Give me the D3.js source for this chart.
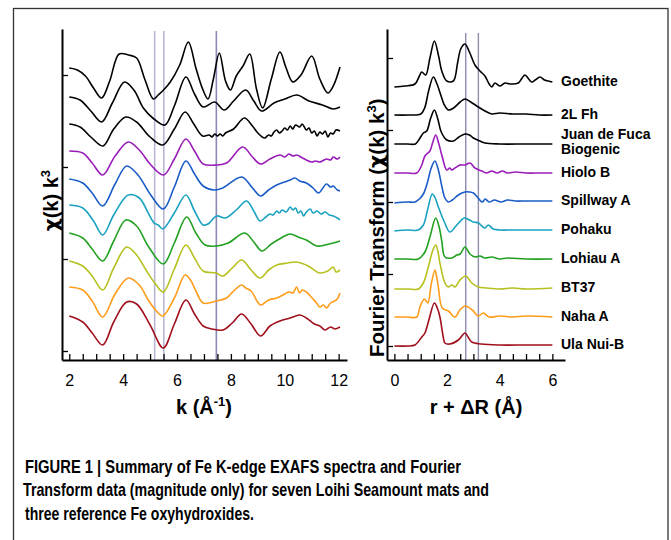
<!DOCTYPE html>
<html>
<head>
<meta charset="utf-8">
<script src="https://cdn.jsdelivr.net/npm/d3@7"></script>
<style>
body { margin: 0; background: #fff; }
svg text { font-family: "Liberation Sans", Arial, Helvetica, sans-serif; }
.chi-glyph { font-family: "DejaVu Sans", sans-serif; }
</style>
</head>
<body>
<svg id="fig" width="671" height="540"></svg>
<script>
// sample names, top to bottom
var samples = ["Goethite", "2L Fh", "Juan de Fuca|Biogenic", "Hiolo B", "Spillway A",
  "Pohaku", "Lohiau A", "BT37", "Naha A", "Ula Nui-B"];

// EXAFS chi(k)k^3, stacked (k, value + offset), arbitrary units
var chiGoethite = [[2,283],[2.3,281],[2.6,275],[2.9,263],[3.2,253],[3.5,270],[3.85,297],[4.2,296],[4.5,293],[4.8,272],[5.12,252],[5.3,256],[5.5,261],[5.75,269],[6.1,286],[6.42,309],[6.7,283],[6.95,262],[7.15,252],[7.35,272],[7.57,298],[7.8,270],[7.98,261],[8.2,275],[8.45,285],[8.7,297],[8.95,262],[9.18,243],[9.5,272],[9.82,299],[10.05,283],[10.3,269],[10.6,276],[11.0,295],[11.3,272],[11.6,258],[11.8,265],[12.05,284]];
var chi2LFh = [[2,254],[2.4,251],[2.8,240],[3.2,229],[3.6,248],[4.05,269],[4.4,261],[4.75,243],[5.1,233],[5.55,226],[5.9,245],[6.33,274],[6.65,257],[6.97,244],[7.4,249],[7.75,241],[8.1,250],[8.55,261],[8.85,250],[9.14,240],[9.6,248],[10.0,252],[10.45,256],[10.9,250],[11.4,246],[11.8,242],[12.05,244]];
var chiJdF = [[2,227],[2.4,224],[2.8,214],[3.25,205],[3.65,222],[4.1,234],[4.5,229],[5.0,214],[5.47,206],[5.9,222],[6.3,239],[6.6,228],[6.95,215],[7.2,216],[7.3,214],[7.4,217],[7.5,215],[7.6,217],[7.7,215],[7.8,218],[8.1,222],[8.5,233],[8.8,225],[9.0,218],[9.25,213],[9.4,216],[9.5,215],[9.6,219],[9.7,221],[9.8,218],[9.9,220],[10.0,223],[10.1,221],[10.2,225],[10.3,222],[10.4,226],[10.55,224],[10.65,227],[10.8,221],[10.9,223],[11.0,218],[11.1,220],[11.2,215],[11.3,219],[11.4,217],[11.5,220],[11.6,214],[11.7,218],[11.8,217],[11.9,221],[12.05,220]];
var chiHiolo = [[2,200],[2.5,198],[2.85,188],[3.24,176],[3.7,195],[4.19,209],[4.6,201],[5.0,187],[5.5,176],[5.9,192],[6.33,212],[6.65,200],[6.97,187],[7.47,186],[7.84,188],[8.44,204],[8.8,194],[9.1,187],[9.45,192],[9.82,196],[10.0,194],[10.15,197],[10.3,195],[10.45,196],[10.6,194],[10.8,191],[11.0,189],[11.15,190],[11.3,189],[11.55,192],[11.7,191],[11.8,194],[11.95,192],[12.05,194]];
var chiSpillway = [[2,172],[2.5,168],[2.85,158],[3.24,145],[3.7,167],[4.13,185],[4.55,176],[5.0,157],[5.49,142],[5.9,164],[6.33,190],[6.65,177],[6.97,165],[7.4,161],[7.7,163],[8.4,174],[8.8,163],[9.1,155],[9.4,161],[9.7,166],[10.0,169],[10.2,171],[10.38,173],[10.55,170],[10.8,168],[11.05,163],[11.25,158],[11.55,167],[11.7,164],[11.8,165],[11.95,161],[12.05,160]];
var chiPohaku = [[2,146],[2.5,143],[2.9,130],[3.24,116],[3.65,136],[4.19,156],[4.6,153],[4.93,138],[5.15,128],[5.3,126],[5.47,122],[5.9,138],[6.33,156],[6.65,140],[6.97,126],[7.15,127],[7.47,135],[7.8,133],[8.2,141],[8.58,150],[8.85,140],[9.08,130],[9.3,134],[9.45,137],[9.57,136],[9.7,140],[9.8,138],[9.9,141],[10.05,139],[10.2,144],[10.3,141],[10.4,143],[10.5,138],[10.6,140],[10.7,135],[10.8,139],[10.95,142],[11.05,138],[11.2,140],[11.35,137],[11.5,139],[11.65,136],[11.8,135],[11.95,133],[12.05,131]];
var chiLohiau = [[2,118],[2.5,113],[2.85,102],[3.24,90],[3.65,110],[4.1,131],[4.5,125],[4.95,104],[5.49,87],[5.9,108],[6.36,134],[6.7,118],[7.04,106],[7.46,105],[7.9,108],[8.52,118],[8.85,109],[9.15,100],[9.5,107],[9.8,112],[10.2,117],[10.5,114],[10.8,111],[11.2,105],[11.5,106],[11.8,108],[12.05,110]];
var chiBT37 = [[2,90],[2.5,85],[2.85,75],[3.24,61],[3.65,83],[4.13,104],[4.5,96],[4.87,80],[5.2,67],[5.49,59],[5.9,82],[6.33,106],[6.65,93],[6.97,80],[7.45,78],[7.7,75],[8.05,83],[8.4,91],[8.75,81],[9.08,73],[9.4,81],[9.7,86],[10.1,88],[10.44,89],[10.87,85],[11.3,78],[11.6,80],[11.8,84],[11.9,79],[12.05,81]];
var chiNaha = [[2,64],[2.5,61],[2.85,50],[3.24,34],[3.7,57],[4.19,73],[4.6,66],[4.93,51],[5.2,41],[5.47,35],[5.9,53],[6.3,76],[6.5,71],[6.7,60],[6.97,48],[7.47,50],[7.84,53],[8.1,60],[8.4,66],[8.55,63],[8.75,60],[9.1,46],[9.4,51],[9.7,53],[10.0,57],[10.15,59],[10.3,58],[10.44,64],[10.55,58],[10.65,61],[10.8,59],[10.95,55],[11.05,52],[11.18,48],[11.3,44],[11.43,46],[11.55,43],[11.7,48],[11.85,50],[11.95,52],[12.05,58]];
var chiUlaNui = [[2,35],[2.5,29],[2.85,18],[3.24,6],[3.65,29],[4.13,49],[4.5,47],[5.0,26],[5.49,3],[5.9,27],[6.33,51],[6.65,37],[6.97,25],[7.3,22],[7.7,21],[8.05,28],[8.4,37],[8.75,27],[9.1,15],[9.45,25],[9.82,30],[10.2,33],[10.56,36],[10.8,33],[11.1,27],[11.3,25],[11.5,21],[11.7,24],[11.85,22],[12.05,24]];

// Fourier transform magnitude, stacked (r + dR, value + offset)
var ftGoethite = [[0,259],[0.4,260],[0.78,262],[0.95,270],[1.04,274],[1.19,271],[1.35,288],[1.52,305],[1.68,290],[1.8,275],[1.99,265],[2.24,265],[2.4,283],[2.52,297],[2.68,302],[2.85,294],[3.06,281],[3.25,275],[3.44,270],[3.6,262],[3.7,259],[3.82,263],[4.0,260],[4.2,263],[4.4,262],[4.71,263],[4.85,268],[4.96,271],[5.1,267],[5.22,264],[5.35,266],[5.53,269],[5.7,266],[5.85,265],[6.0,264]];
var ft2LFh = [[0,231],[0.5,231],[1.0,232],[1.15,238],[1.3,255],[1.48,269],[1.62,262],[1.75,252],[1.9,241],[2.05,236],[2.25,238],[2.5,244],[2.68,247],[2.9,244],[3.13,240],[3.44,235],[3.7,232],[4.0,233],[4.5,232],[5.0,232],[5.5,231],[6.0,231]];
var ftJdF = [[0,202],[0.5,202],[0.8,202],[0.95,207],[1.1,213],[1.23,215],[1.38,228],[1.52,236],[1.65,227],[1.78,214],[1.99,206],[2.24,205],[2.45,209],[2.68,212],[2.85,211],[3.0,208],[3.25,205],[3.44,203],[4.0,202],[5.0,202],[6.0,202]];
var ftHiolo = [[0,173],[0.5,173],[0.85,173],[1.04,181],[1.16,190],[1.35,195],[1.45,203],[1.57,211],[1.68,203],[1.8,191],[1.99,176],[2.1,178],[2.18,176],[2.3,178],[2.49,181],[2.68,181],[2.87,183],[3.06,178],[3.32,175],[3.5,173],[3.7,175],[3.9,173],[4.1,175],[4.3,173],[4.6,174],[5.0,173],[5.5,173],[6.0,173]];
var ftSpillway = [[0,143],[0.5,144],[0.78,144],[0.95,147],[1.1,152],[1.25,163],[1.4,178],[1.54,185],[1.68,175],[1.8,160],[1.92,148],[2.05,144],[2.2,146],[2.43,151],[2.68,154],[2.85,154],[3.0,153],[3.15,149],[3.34,144],[3.45,147],[3.6,144],[3.8,146],[4.05,144],[4.3,146],[4.6,145],[5.0,145],[5.5,145],[6.0,145]];
var ftPohaku = [[0,115],[0.5,116],[0.91,116],[1.1,121],[1.25,135],[1.44,152],[1.55,148],[1.67,139],[1.9,124],[2.11,114],[2.37,121],[2.66,128],[2.85,126],[3.0,124],[3.2,123],[3.32,120],[3.44,118],[3.57,121],[3.75,117],[4.0,116],[4.5,116],[5.0,116],[6.0,116]];
var ftLohiau = [[0,87],[0.5,87],[0.91,87],[1.16,94],[1.35,109],[1.57,128],[1.7,119],[1.8,105],[1.92,89],[2.18,88],[2.37,91],[2.5,92],[2.68,99],[2.87,92],[3.06,89],[3.25,90],[3.44,88],[3.7,89],[4.0,87],[4.3,88],[5.0,87],[6.0,87]];
var ftBT37 = [[0,57],[0.5,57],[0.91,57],[1.1,63],[1.29,79],[1.45,95],[1.57,101],[1.65,95],[1.73,83],[1.92,63],[2.05,59],[2.18,61],[2.3,59],[2.49,66],[2.71,70],[2.94,63],[3.19,59],[3.5,58],[4.0,57],[4.5,58],[5.0,57],[6.0,58]];
var ftNaha = [[0,29],[0.5,29],[0.85,29],[0.97,39],[1.14,47],[1.27,43],[1.4,62],[1.54,76],[1.6,70],[1.67,59],[1.82,38],[2.05,35],[2.3,29],[2.49,36],[2.68,40],[2.96,36],[3.19,30],[3.38,33],[3.6,29],[4.0,30],[4.5,29],[5.0,30],[6.0,29]];
var ftUlaNui = [[0,0],[0.5,0],[0.78,1],[1.04,9],[1.16,13],[1.3,25],[1.52,43],[1.63,38],[1.73,29],[1.85,10],[1.92,3],[2.1,2],[2.43,6],[2.68,13],[2.8,9],[2.94,4],[3.3,2],[4.0,1],[5.0,1],[6.0,1]];

var chiSeries = [chiGoethite, chi2LFh, chiJdF, chiHiolo, chiSpillway, chiPohaku, chiLohiau, chiBT37, chiNaha, chiUlaNui];
var ftSeries = [ftGoethite, ft2LFh, ftJdF, ftHiolo, ftSpillway, ftPohaku, ftLohiau, ftBT37, ftNaha, ftUlaNui];

var kTickValues = d3.range(2, 12.01, 0.5);
var rTickValues = d3.range(0, 6.01, 0.5);
var chiOffsets = [0, 92, 184, 276];
var ftOffsets = [0, 72, 144, 216, 288];
var kMarkers = [5.17, 5.51, 7.46];
var rMarkers = [2.71, 3.19];

var colors = ["#000000", "#000000", "#000000", "#9a1cb8", "#1a5cc6", "#19a2c0",
  "#22a020", "#b6c01e", "#ff9c1c", "#a0101c"];

var svg = d3.select("#fig");

// outer frame
svg.append("rect")
  .attr("x", 13.5).attr("y", 8.5)
  .attr("width", 654.5).attr("height", 560)
  .attr("fill", "none").attr("stroke", "#333").attr("stroke-width", 1.3);

var xK = d3.scaleLinear().domain([1.73, 12.31]).range([62, 347]);
var yK = d3.scaleLinear().domain([-9, 322]).range([360, 29]);
var xR = d3.scaleLinear().domain([-0.28, 6.48]).range([387, 565]);
var yR = d3.scaleLinear().domain([-14, 317]).range([360, 29]);

// marker lines
svg.selectAll(".kmark").data(kMarkers).enter().append("line")
  .attr("class", "kmark")
  .attr("x1", function(d) { return xK(d); }).attr("x2", function(d) { return xK(d); })
  .attr("y1", 31).attr("y2", 360)
  .attr("stroke", function(d, i) { return i < 2 ? "#b8b8d4" : "#8888b2"; })
  .attr("stroke-width", 1.6);

svg.selectAll(".rmark").data(rMarkers).enter().append("line")
  .attr("class", "rmark")
  .attr("x1", function(d) { return xR(d); }).attr("x2", function(d) { return xR(d); })
  .attr("y1", 33).attr("y2", 360)
  .attr("stroke", "#8c8cb4")
  .attr("stroke-width", 1.4);

// curves
var lineK = d3.line()
  .x(function(d) { return xK(d[0]); })
  .y(function(d) { return yK(d[1]); })
  .curve(d3.curveCatmullRom.alpha(0.5));
var lineR = d3.line()
  .x(function(d) { return xR(d[0]); })
  .y(function(d) { return yR(d[1]); })
  .curve(d3.curveCatmullRom.alpha(0.5));

svg.selectAll(".chi").data(chiSeries).enter().append("path")
  .attr("class", "chi")
  .attr("d", lineK)
  .attr("fill", "none")
  .attr("stroke", function(d, i) { return colors[i]; })
  .attr("stroke-width", 1.6)
  .attr("stroke-linejoin", "round");

svg.selectAll(".ft").data(ftSeries).enter().append("path")
  .attr("class", "ft")
  .attr("d", lineR)
  .attr("fill", "none")
  .attr("stroke", function(d, i) { return colors[i]; })
  .attr("stroke-width", 1.6)
  .attr("stroke-linejoin", "round");

// axes
function styleAxis(g) {
  g.select(".domain").attr("stroke", "#000").attr("stroke-width", 2);
  g.selectAll(".tick line").attr("stroke", "#000").attr("stroke-width", 1.3);
  g.selectAll(".tick text").attr("fill", "#000").style("font-size", "16px");
}

svg.append("g").attr("transform", "translate(0,360)")
  .call(d3.axisBottom(xK).tickValues(kTickValues).tickSize(-6).tickSizeOuter(0).tickPadding(15)
    .tickFormat(function(d) { return d % 2 === 0 ? d : ""; }))
  .call(styleAxis);
svg.append("g").attr("transform", "translate(62,0)")
  .call(d3.axisLeft(yK).tickValues(chiOffsets).tickSize(-6).tickSizeOuter(0).tickFormat(""))
  .call(styleAxis);

svg.append("g").attr("transform", "translate(0,360)")
  .call(d3.axisBottom(xR).tickValues(rTickValues).tickSize(-6).tickSizeOuter(0).tickPadding(15)
    .tickFormat(function(d) { return d % 2 === 0 ? d : ""; }))
  .call(styleAxis);
svg.append("g").attr("transform", "translate(387,0)")
  .call(d3.axisLeft(yR).tickValues(ftOffsets).tickSize(-6).tickSizeOuter(0).tickFormat(""))
  .call(styleAxis);

// sample labels at the end of each FT curve
svg.selectAll(".lab").data(samples).enter().append("text")
  .attr("class", "lab")
  .attr("x", 561)
  .attr("y", function(d, i) { var s = ftSeries[i]; return yR(s[s.length - 1][1]) + 4; })
  .style("font-size", "14px").style("font-weight", "bold")
  .each(function(d) {
    var parts = d.split("|");
    var t = d3.select(this);
    if (parts.length === 1) { t.text(d); return; }
    t.append("tspan").attr("x", 561).attr("dy", -9).text(parts[0]);
    t.append("tspan").attr("x", 561).attr("dy", 15).text(parts[1]);
  });

// axis titles
var yt1 = svg.append("text")
  .attr("transform", "translate(58,170) rotate(-90)")
  .attr("text-anchor", "end")
  .style("font-size", "20px").style("font-weight", "bold");
yt1.append("tspan").attr("class", "chi-glyph").text("\u03c7");
yt1.append("tspan").text("(k) k");
yt1.append("tspan").attr("dy", -8).style("font-size", "13px").text("3");

var yt2 = svg.append("text")
  .attr("transform", "translate(384,357) rotate(-90)")
  .attr("text-anchor", "start")
  .style("font-size", "20.5px").style("font-weight", "bold");
yt2.append("tspan").text("Fourier Transform (");
yt2.append("tspan").attr("class", "chi-glyph").text("\u03c7");
yt2.append("tspan").text("(k) k");
yt2.append("tspan").attr("dy", -8).style("font-size", "13px").text("3");
yt2.append("tspan").attr("dy", 8).text(")");

var xt1 = svg.append("text")
  .attr("x", 204).attr("y", 414)
  .attr("text-anchor", "middle")
  .style("font-size", "20px").style("font-weight", "bold");
xt1.append("tspan").text("k (\u00c5");
xt1.append("tspan").attr("dy", -8).style("font-size", "13px").text("-1");
xt1.append("tspan").attr("dy", 8).text(")");

svg.append("text")
  .attr("x", 476).attr("y", 414)
  .attr("text-anchor", "middle")
  .style("font-size", "20px").style("font-weight", "bold")
  .text("r + \u0394R (\u00c5)");

// caption
var caption = [
  "FIGURE 1 | Summary of Fe K-edge EXAFS spectra and Fourier",
  "Transform data (magnitude only) for seven Loihi Seamount mats and",
  "three reference Fe oxyhydroxides."
];
var capX = [25, 23, 25];
var capW = [436, 466, 229];
svg.selectAll(".cap").data(caption).enter().append("text")
  .attr("class", "cap")
  .attr("x", function(d, i) { return capX[i]; })
  .attr("y", function(d, i) { return 473 + i * 23.3; })
  .attr("textLength", function(d, i) { return capW[i]; })
  .attr("lengthAdjust", "spacingAndGlyphs")
  .style("font-family", "'Liberation Sans Narrow', 'Arial Narrow', 'Liberation Sans', sans-serif")
  .style("font-size", "18.5px").style("font-weight", "bold")
  .text(function(d) { return d; });
</script>
</body>
</html>
